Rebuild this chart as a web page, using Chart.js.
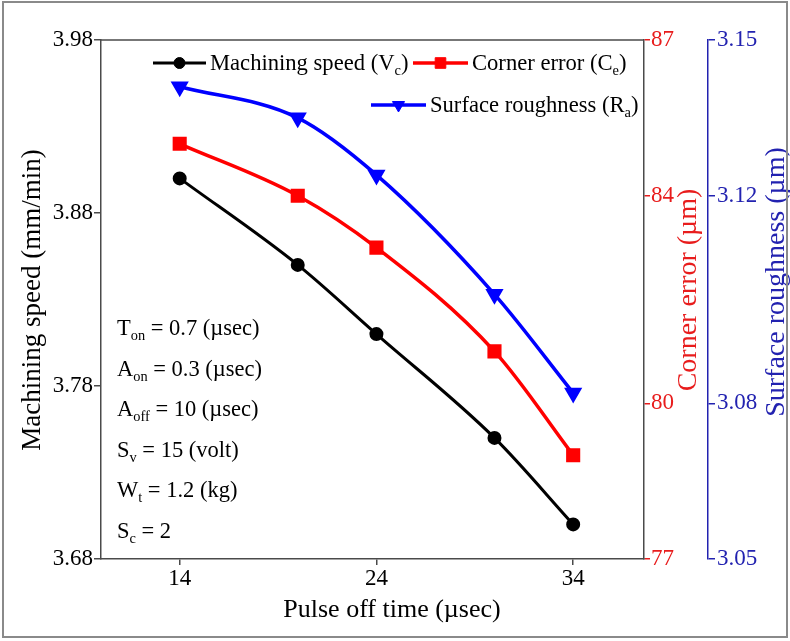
<!DOCTYPE html>
<html>
<head>
<meta charset="utf-8">
<script src="https://cdn.jsdelivr.net/npm/chart.js@4.4.0/dist/chart.umd.min.js"></script>
<style>
  html, body { margin: 0; padding: 0; background: #fff; }
  #wrap { width: 790px; height: 641px; }
</style>
</head>
<body>
<div id="wrap"><canvas id="chart" width="790" height="641"></canvas></div>
<script>
// Pulse off time sweep and the three measured responses
const pulseOff = [14, 20, 24, 30, 34];
const speedVc = [3.90, 3.85, 3.81, 3.75, 3.70];
const cornerCe = [85, 84, 83, 81, 79];
const roughRa = [3.141, 3.135, 3.124, 3.101, 3.082];

// Tick values on each axis
const xTicks = [14, 24, 34];
const speedTicks = [3.68, 3.78, 3.88, 3.98];
const cornerTicks = [77, 80, 84, 87];
const roughTicks = [3.05, 3.08, 3.12, 3.15];

// Legend names, split where the subscript starts
const seriesNames = ["Machining speed (V", "Corner error (C", "Surface roughness (R"];
const seriesSubs = ["c", "e", "a"];

// Fixed machining parameters
const paramSymbols = [["T", "on"], ["A", "on"], ["A", "off"], ["S", "v"], ["W", "t"], ["S", "c"]];
const paramValues = [" = 0.7 (µsec)", " = 0.3 (µsec)", " = 10 (µsec)", " = 15 (volt)", " = 1.2 (kg)", " = 2"];

const FAMILY = "'Liberation Serif', 'Times New Roman', serif";
const RED = "#ff0000";
const RED_TXT = "#e81c1c";
const BLUE = "#0000ff";
const BLUE_TXT = "#2222b0";
const AXIS = "#4a4a4a";

const tickFont = { family: FAMILY, size: 23 };

function fixedTicks(values) {
  return (axis) => { axis.ticks = values.map(v => ({ value: v })); };
}

// text with subscript runs: parts = [[text, isSub], ...]
function drawRich(ctx, x, y, parts, size) {
  ctx.textAlign = "left";
  ctx.textBaseline = "alphabetic";
  for (const [t, sub] of parts) {
    const fs = sub ? size * 0.64 : size;
    ctx.font = fs + "px " + FAMILY;
    ctx.fillText(t, x, sub ? y + size * 0.22 : y);
    x += ctx.measureText(t).width;
  }
  return x;
}

function drawVertical(ctx, text, cx, cy, size, color) {
  ctx.save();
  ctx.translate(cx, cy);
  ctx.rotate(-Math.PI / 2);
  ctx.font = size + "px " + FAMILY;
  ctx.fillStyle = color;
  ctx.textAlign = "center";
  ctx.textBaseline = "middle";
  ctx.fillText(text, 0, 0);
  ctx.restore();
}

const decorations = {
  id: "decorations",
  afterDraw(chart) {
    const ctx = chart.ctx;
    const area = chart.chartArea;
    ctx.save();

    // top edge of the plot frame
    ctx.strokeStyle = AXIS;
    ctx.lineWidth = 1.5;
    ctx.beginPath();
    ctx.moveTo(area.left, area.top);
    ctx.lineTo(area.right, area.top);
    ctx.stroke();

    // axis titles
    drawVertical(ctx, "Machining speed (mm/min)", 33, 300, 27, "#000");
    drawVertical(ctx, "Corner error (µm)", 689, 290, 28, RED_TXT);
    drawVertical(ctx, "Surface roughness (µm)", 777, 282, 28, BLUE_TXT);
    ctx.font = "26px " + FAMILY;
    ctx.fillStyle = "#000";
    ctx.textAlign = "center";
    ctx.textBaseline = "middle";
    ctx.fillText("Pulse off time (µsec)", 392, 610);

    // legend
    const entries = [
      { ds: 0, x1: 153, x2: 206, y: 63, tx: 210 },
      { ds: 1, x1: 413, x2: 468, y: 63, tx: 472 },
      { ds: 2, x1: 371, x2: 426, y: 105, tx: 430 }
    ];
    entries.forEach((e, i) => {
      const ds = chart.data.datasets[e.ds];
      ctx.strokeStyle = ds.borderColor;
      ctx.lineWidth = ds.borderWidth;
      ctx.beginPath();
      ctx.moveTo(e.x1, e.y);
      ctx.lineTo(e.x2, e.y);
      ctx.stroke();
      ctx.fillStyle = ds.pointBackgroundColor;
      ctx.strokeStyle = ds.pointBackgroundColor;
      ctx.lineWidth = 1;
      Chart.helpers.drawPoint(ctx, {
        pointStyle: ds.pointStyle,
        radius: ds.pointRadius,
        rotation: ds.pointRotation || 0,
        borderWidth: 1
      }, (e.x1 + e.x2) / 2, e.y);
      ctx.fillStyle = "#000";
      drawRich(ctx, e.tx, e.y + 7, [[seriesNames[i], false], [seriesSubs[i], true], [")", false]], 22.6);
    });

    // machining parameter block
    ctx.fillStyle = "#000";
    paramSymbols.forEach((s, i) => {
      drawRich(ctx, 117, 335 + i * 40.6, [[s[0], false], [s[1], true], [paramValues[i], false]], 22.5);
    });

    // outer picture frame
    ctx.strokeStyle = "#8a8a8a";
    ctx.lineWidth = 2;
    ctx.strokeRect(3, 2, 784, 635);
    ctx.restore();
  }
};

new Chart(document.getElementById("chart"), {
  type: "line",
  data: {
    labels: pulseOff,
    datasets: [
      {
        label: "Machining speed (Vc)",
        data: pulseOff.map((x, i) => ({ x, y: speedVc[i] })),
        yAxisID: "y",
        borderColor: "#000",
        borderWidth: 3,
        pointStyle: "circle",
        pointRadius: 5.5,
        pointBackgroundColor: "#000",
        pointBorderColor: "#000",
        cubicInterpolationMode: "monotone"
      },
      {
        label: "Corner error (Ce)",
        data: pulseOff.map((x, i) => ({ x, y: cornerCe[i] })),
        yAxisID: "yCe",
        borderColor: RED,
        borderWidth: 3.5,
        pointStyle: "rect",
        pointRadius: 7.5,
        pointBackgroundColor: RED,
        pointBorderColor: RED,
        cubicInterpolationMode: "monotone"
      },
      {
        label: "Surface roughness (Ra)",
        data: pulseOff.map((x, i) => ({ x, y: roughRa[i] })),
        yAxisID: "yRa",
        borderColor: BLUE,
        borderWidth: 3.5,
        pointStyle: "triangle",
        pointRotation: 180,
        pointRadius: 7,
        pointBackgroundColor: BLUE,
        pointBorderColor: BLUE,
        cubicInterpolationMode: "monotone"
      }
    ]
  },
  options: {
    responsive: false,
    devicePixelRatio: 1,
    animation: false,
    layout: { padding: { top: 40, left: 0, right: 0, bottom: 0 } },
    plugins: { legend: { display: false }, tooltip: { enabled: false } },
    scales: {
      x: {
        type: "linear",
        min: 10,
        max: 37.6,
        afterBuildTicks: fixedTicks(xTicks),
        afterFit: (ax) => { ax.height = 82; },
        grid: { drawOnChartArea: false, tickLength: 6, color: AXIS, lineWidth: 1.5 },
        border: { color: AXIS, width: 1.5 },
        ticks: { color: "#000", font: tickFont, padding: 0, maxRotation: 0 }
      },
      y: {
        position: "left",
        min: 3.68,
        max: 3.98,
        afterBuildTicks: fixedTicks(speedTicks),
        afterFit: (ax) => { ax.width = 101; },
        grid: { drawOnChartArea: false, tickLength: 7, color: AXIS, lineWidth: 1.5 },
        border: { color: AXIS, width: 1.5 },
        ticks: { color: "#000", font: tickFont, padding: 1, callback: (v) => v.toFixed(2) }
      },
      yCe: {
        position: "right",
        min: 77,
        max: 87,
        afterBuildTicks: fixedTicks(cornerTicks),
        afterFit: (ax) => { ax.width = 64; },
        grid: { drawOnChartArea: false, tickLength: 6, color: RED_TXT, lineWidth: 1.5 },
        border: { color: AXIS, width: 1.5 },
        ticks: { color: RED_TXT, font: tickFont, padding: 1 }
      },
      yRa: {
        position: "right",
        min: 3.05,
        max: 3.15,
        afterBuildTicks: fixedTicks(roughTicks),
        afterFit: (ax) => { ax.width = 82; },
        grid: { drawOnChartArea: false, tickLength: 7, color: BLUE_TXT, lineWidth: 1.5 },
        border: { color: BLUE_TXT, width: 1.5 },
        ticks: { color: BLUE_TXT, font: tickFont, padding: 2, callback: (v) => v.toFixed(2) }
      }
    }
  },
  plugins: [decorations]
});
</script>
</body>
</html>
